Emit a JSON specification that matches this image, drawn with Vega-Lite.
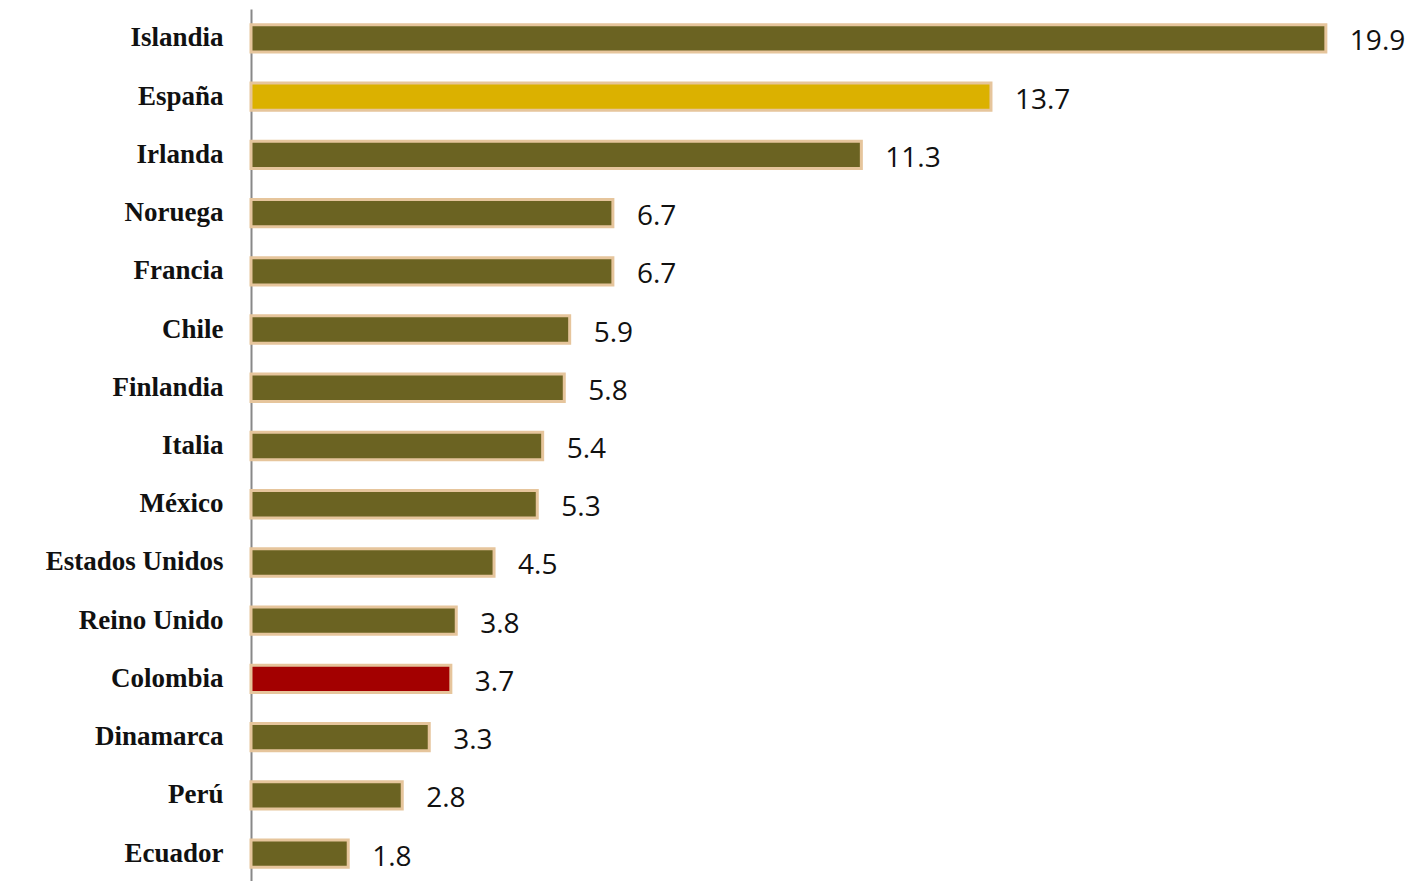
{
"$schema":"https://vega.github.io/schema/vega-lite/v6.json",
"autosize":{"type":"none"},
"padding":{"left":251,"top":9,"right":0,"bottom":0},
"width":1171,"height":874,
"background":"white",
"data":{"values":[
{"p":"Islandia","v":19.9,"c":"o"},{"p":"España","v":13.7,"c":"g"},{"p":"Irlanda","v":11.3,"c":"o"},
{"p":"Noruega","v":6.7,"c":"o"},{"p":"Francia","v":6.7,"c":"o"},{"p":"Chile","v":5.9,"c":"o"},
{"p":"Finlandia","v":5.8,"c":"o"},{"p":"Italia","v":5.4,"c":"o"},{"p":"México","v":5.3,"c":"o"},
{"p":"Estados Unidos","v":4.5,"c":"o"},{"p":"Reino Unido","v":3.8,"c":"o"},{"p":"Colombia","v":3.7,"c":"r"},
{"p":"Dinamarca","v":3.3,"c":"o"},{"p":"Perú","v":2.8,"c":"o"},{"p":"Ecuador","v":1.8,"c":"o"}]},
"encoding":{
"y":{"field":"p","type":"nominal","sort":null,"scale":{"paddingInner":0.53,"paddingOuter":0.27},
"axis":{"title":null,"ticks":false,"domainColor":"#888","domainWidth":2,"labelFont":"Liberation Serif","labelFontWeight":"bold","labelFontSize":27,"labelColor":"#111","labelPadding":28}},
"x":{"field":"v","type":"quantitative","scale":{"domain":[0,21.68],"nice":false},"axis":null}},
"layer":[
{"mark":{"type":"bar","stroke":"#e6c59c","strokeWidth":3},
"encoding":{"color":{"field":"c","type":"nominal","legend":null,"scale":{"domain":["o","g","r"],"range":["#6b6322","#dbb100","#a30000"]}}}},
{"mark":{"type":"text","align":"left","dx":24,"dy":4,"font":"Open Sans","fontSize":28,"color":"#111"},
"encoding":{"text":{"field":"v","type":"quantitative","format":".1f"}}}
],
"config":{"view":{"stroke":null}}
}
